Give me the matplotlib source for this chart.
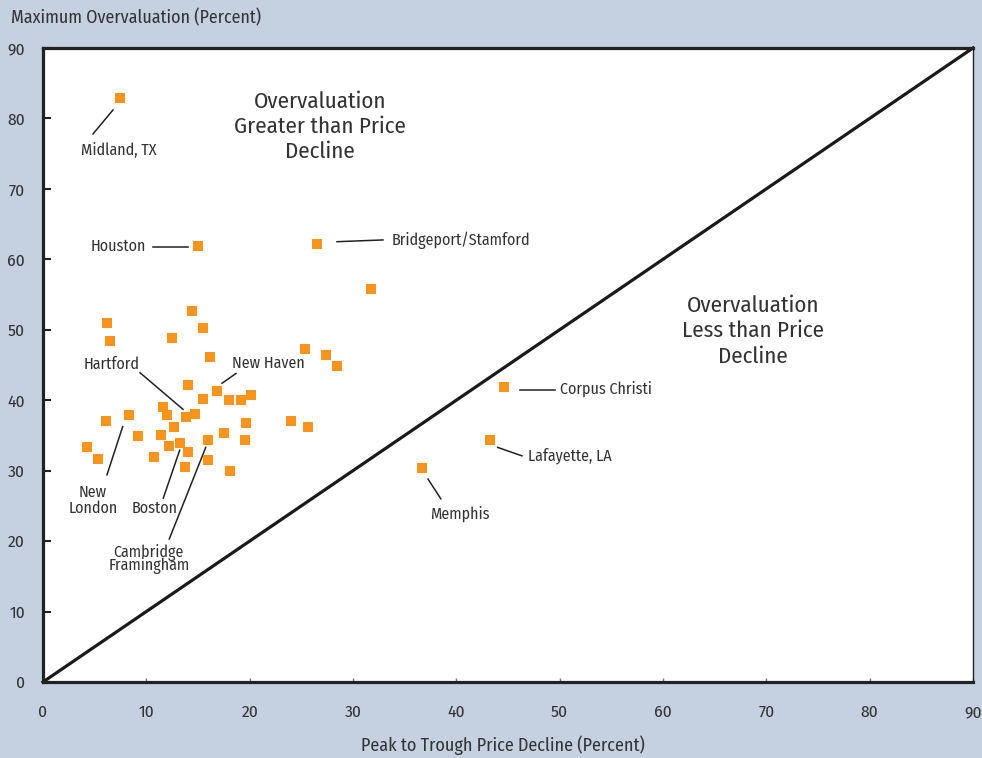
import matplotlib
matplotlib.use('Agg')
import matplotlib.pyplot as plt
from matplotlib import font_manager as fm

# peak-to-trough decline (x) and max overvaluation (y), percent
decline = [7.45, 15.0, 26.5, 31.7, 44.6, 43.3, 36.7, 25.4, 27.4, 28.5, 24.0, 25.6,
           6.22, 6.51, 14.45, 15.5, 12.5, 16.2, 14.06, 16.8, 15.5, 18.0, 19.2, 20.1,
           11.6, 12.0, 13.8, 14.7, 8.35, 6.13, 12.7, 19.6, 9.2, 11.45, 17.5, 19.5,
           4.3, 12.2, 13.3, 16.0, 5.35, 10.7, 14.0, 16.0, 13.7, 18.1]
overval = [82.9, 61.9, 62.2, 55.8, 41.9, 34.4, 30.4, 47.3, 46.4, 44.9, 37.1, 36.2,
           50.9, 48.4, 52.6, 50.2, 48.9, 46.2, 42.1, 41.3, 40.1, 40.0, 40.0, 40.7,
           39.0, 37.9, 37.6, 38.1, 37.9, 37.0, 36.2, 36.7, 34.9, 35.0, 35.3, 34.3,
           33.3, 33.5, 33.9, 34.4, 31.6, 32.0, 32.6, 31.5, 30.5, 29.9]

# city labels: text, text position, alignment, line spacing, leader line start/end
city_names = ['Midland, TX', 'Houston', 'Bridgeport/Stamford', 'Corpus Christi',
              'Lafayette, LA', 'Memphis', 'Hartford', 'New Haven', 'New\nLondon',
              'Boston', 'Cambridge\nFramingham']
city_text_xy = [(7.35, 75.5), (7.26, 61.9), (33.7, 62.75), (50.0, 41.6),
                (46.9, 32.1), (40.35, 23.85), (6.68, 45.1), (21.77, 45.3),
                (4.84, 25.8), (10.84, 24.6), (10.25, 17.5)]
city_ha = ['center', 'center', 'left', 'left', 'left', 'center', 'center',
           'center', 'center', 'center', 'center']
city_spacing = [1, 1, 1, 1, 1, 1, 1, 1, 0.95, 1, 0.68]
leader_from = [(6.77, 81.2), (10.65, 61.75), (28.45, 62.5), (46.2, 41.45),
               (44.0, 33.3), (37.26, 28.8), (9.39, 43.9), (17.32, 42.4),
               (7.71, 36.25), (13.23, 32.9), (15.75, 33.3)]
leader_to = [(4.84, 77.8), (14.03, 61.75), (32.9, 62.75), (49.55, 41.45),
             (46.35, 32.1), (38.5, 26.0), (13.55, 38.7), (18.68, 43.8),
             (6.19, 29.4), (11.64, 26.1), (12.22, 20.3)]

ticks = list(range(0, 91, 10))

# pick a narrow humanist face if there is one, else DejaVu
have = set(f.name for f in fm.fontManager.ttflist)
FONT = [n for n in ['Fira Sans Condensed', 'Cabin Condensed', 'PT Sans Narrow',
                    'Roboto Condensed', 'Liberation Sans Narrow'] if n in have][:1]
FONT = FONT + ['DejaVu Sans']
plt.rcParams['font.family'] = FONT
bg = '#c5d0e1'
ink = '#333333'

fig = plt.figure(figsize=(9.82, 7.58), dpi=100, facecolor=bg)
ax = fig.add_axes([0.0438, 0.1003, 0.9470, 0.8364])
ax.set_facecolor('white')

ax.plot([0, 90], [0, 90], color='#1a1a1a', lw=2.3, zorder=2, clip_on=False)
ax.scatter(decline, overval, marker='s', s=48, color='#f7941d', lw=0, zorder=3)

for name, (tx, ty), ha, ls, p0, p1 in zip(city_names, city_text_xy, city_ha,
                                          city_spacing, leader_from, leader_to):
    ax.plot([p0[0], p1[0]], [p0[1], p1[1]], color='#222222', lw=1.1, zorder=2)
    ax.text(tx, ty, name, ha=ha, va='center', fontsize=11.5, color=ink,
            linespacing=ls)

ax.text(26.8, 78.8, 'Overvaluation\nGreater than Price\nDecline', ha='center',
        va='center', fontsize=16.5, color=ink, linespacing=1.24)
ax.text(68.7, 49.8, 'Overvaluation\nLess than Price\nDecline', ha='center',
        va='center', fontsize=16.5, color=ink, linespacing=1.24)

ax.set_xlim(0, 90)
ax.set_ylim(0, 90)
ax.set_xticks(ticks)
ax.set_yticks(ticks)
ax.tick_params(axis='x', direction='in', length=3, width=1, color='#777777',
               pad=16, labelsize=12.5, labelcolor=ink)
ax.tick_params(axis='y', direction='in', length=6, width=1.5, color='#222222',
               pad=13, labelsize=12.5, labelcolor=ink)
for side, s in ax.spines.items():
    s.set_color('#222222')
    s.set_linewidth(1.0 if side == 'right' else 2.3)

fig.text(0.011, 0.976, 'Maximum Overvaluation (Percent)', ha='left', va='center',
         fontsize=12.9, color=ink)
fig.text(0.512, 0.017, 'Peak to Trough Price Decline (Percent)', ha='center',
         va='center', fontsize=13, color=ink)

fig.savefig('out.png', dpi=100, facecolor=bg)
